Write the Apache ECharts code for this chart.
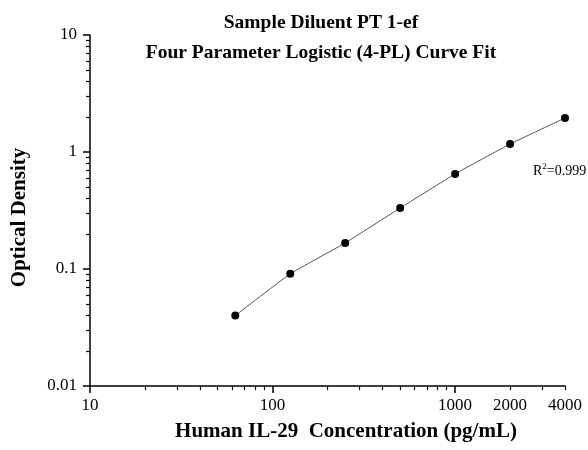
<!DOCTYPE html>
<html>
<head>
<meta charset="utf-8">
<script src="https://cdn.jsdelivr.net/npm/echarts@6/dist/echarts.min.js"></script>
<style>
  html, body { margin: 0; padding: 0; background: #fff; }
  #main { width: 588px; height: 450px; }
</style>
</head>
<body>
<div id="main"></div>
<script>
// standard curve data
var concentration = [62.5, 125, 250, 500, 1000, 2000, 4000];
var opticalDensity = [0.040, 0.091, 0.167, 0.332, 0.649, 1.17, 1.95];

// axis ticks
var xMajorTicks = [10, 100, 1000];
var xLabels = [10, 100, 1000, 2000, 4000];
var xMinorTicks = [20, 30, 40, 50, 60, 70, 80, 90, 200, 300, 400, 500, 600, 700, 800, 900, 2000, 3000, 4000];
var yMajorTicks = [0.01, 0.1, 1, 10];
var yLabels = ['0.01', '0.1', '1', '10'];
var yMinorTicks = [0.02, 0.03, 0.04, 0.05, 0.06, 0.07, 0.08, 0.09,
    0.2, 0.3, 0.4, 0.5, 0.6, 0.7, 0.8, 0.9,
    2, 3, 4, 5, 6, 7, 8, 9];

(function(){
    var chart = echarts.init(document.getElementById('main'));
    var serif = '"Liberation Serif", "Times New Roman", serif';

    var points = concentration.map(function (c, i) { return [c, opticalDensity[i]]; });

    var option = {
        backgroundColor: '#fff',
        animation: false,
        title: {
            text: 'Sample Diluent PT 1-ef\nFour Parameter Logistic (4-PL) Curve Fit',
            left: 316,
            top: 3,
            textAlign: 'center',
            textStyle: {
                fontFamily: serif,
                fontWeight: 'bold',
                fontSize: 19.5,
                lineHeight: 30,
                color: '#000'
            }
        },
        grid: {
            left: 90,
            top: 35,
            right: 23,
            bottom: 64
        },
        xAxis: [{
            type: 'log',
            min: 10,
            max: 4000,
            name: 'Human IL-29  Concentration (pg/mL)',
            nameLocation: 'middle',
            nameGap: 35,
            nameTextStyle: {
                fontFamily: serif,
                fontWeight: 'bold',
                fontSize: 21,
                color: '#000',
                padding: [0, 0, 0, 37]
            },
            axisLine: { show: true, lineStyle: { color: '#000', width: 1.5 } },
            axisTick: { show: true, length: 7, customValues: xMajorTicks, lineStyle: { color: '#000', width: 1.5 } },
            axisLabel: {
                customValues: xLabels,
                margin: 11,
                fontFamily: serif,
                fontSize: 17,
                color: '#000',
                formatter: function (v) { return String(Math.round(v)); }
            },
            splitLine: { show: false }
        }, {
            // minor ticks
            type: 'log',
            min: 10,
            max: 4000,
            position: 'bottom',
            axisLine: { show: false },
            axisTick: { show: true, length: 4, customValues: xMinorTicks, lineStyle: { color: '#000', width: 1.2 } },
            axisLabel: { show: false },
            splitLine: { show: false }
        }],
        yAxis: [{
            type: 'log',
            min: 0.01,
            max: 10,
            name: 'Optical Density',
            nameLocation: 'middle',
            nameGap: 60,
            nameTextStyle: {
                fontFamily: serif,
                fontWeight: 'bold',
                fontSize: 21,
                color: '#000',
                padding: [0, 14, 0, 0]
            },
            axisLine: { show: true, lineStyle: { color: '#000', width: 1.5 } },
            axisTick: { show: true, length: 7, customValues: yMajorTicks, lineStyle: { color: '#000', width: 1.5 } },
            axisLabel: {
                customValues: yMajorTicks,
                margin: 13,
                fontFamily: serif,
                fontSize: 17,
                color: '#000',
                formatter: function (v) {
                    var i = yMajorTicks.indexOf(v);
                    return i >= 0 ? yLabels[i] : String(v);
                }
            },
            splitLine: { show: false }
        }, {
            type: 'log',
            min: 0.01,
            max: 10,
            position: 'left',
            axisLine: { show: false },
            axisTick: { show: true, length: 4, customValues: yMinorTicks, lineStyle: { color: '#000', width: 1.2 } },
            axisLabel: { show: false },
            splitLine: { show: false }
        }],
        graphic: [{
            type: 'text',
            left: 533,
            top: 162,
            style: {
                text: 'R{s|2}=0.999',
                font: '14px ' + serif,
                fill: '#000',
                rich: {
                    s: { fontSize: 9, verticalAlign: 'top', padding: [0, 0, 9, 0], fontFamily: serif }
                }
            }
        }],
        series: [{
            type: 'line',
            xAxisIndex: 0,
            yAxisIndex: 0,
            data: points,
            smooth: 0.1,
            symbol: 'circle',
            symbolSize: 8,
            itemStyle: { color: '#000' },
            lineStyle: { color: '#555', width: 1 }
        }]
    };

    chart.setOption(option);

    window.addEventListener('resize', function () {
        chart.resize();
    });
})();
</script>
</body>
</html>
